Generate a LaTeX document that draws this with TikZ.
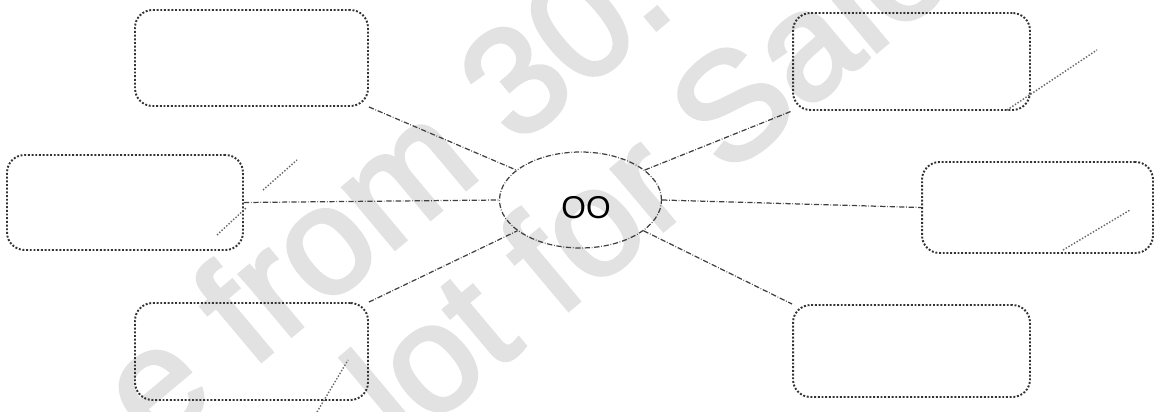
\documentclass[tikz,border=0pt]{standalone}
\usepackage{fontspec}
\setmainfont{Liberation Sans}
\newfontfamily\wmfont[FakeBold=2.5]{Liberation Sans}
\usetikzlibrary{shapes.geometric}
\definecolor{wm}{HTML}{E2E2E2}
\begin{document}
\begin{tikzpicture}[x=0.02cm,y=-0.02cm,
  box/.style={draw=black!80, densely dotted, line width=1.1pt, rounded corners=10pt, inner sep=0pt},
  link/.style={draw=black!75, densely dashdotted, line width=0.7pt},
  hub/.style={ellipse, draw=black!75, densely dashdotted, line width=0.7pt, minimum width=3.24cm, minimum height=1.92cm, inner sep=0pt},
  pencil/.style={draw=black!60, densely dotted, line width=0.8pt},
  wmark/.style={text=wm, font=\wmfont\fontsize{86.5}{86.5}\selectfont, rotate=40, anchor=base west, inner sep=0pt}]
\useasboundingbox (0,0) rectangle (1159,412);
% watermark
\node[wmark] (w1) at (154,451) {e from 30.};
\node[wmark] (w2) at (403,449) {lot for Sale};
% boxes
\node[box, minimum width=4.66cm, minimum height=1.92cm] (tl) at (251.5,58) {};
\node[box, minimum width=4.72cm, minimum height=1.90cm] (ml) at (125,202.5) {};
\node[box, minimum width=4.66cm, minimum height=1.94cm] (bl) at (251.5,351.5) {};
\node[box, minimum width=4.74cm, minimum height=1.94cm] (tr) at (911.5,61.5) {};
\node[box, minimum width=4.62cm, minimum height=1.82cm] (mr) at (1037.5,207.5) {};
\node[box, minimum width=4.74cm, minimum height=1.84cm] (br) at (911.5,351) {};
% center
\node[hub] (c) at (580.5,200) {};
\node[font=\fontsize{18}{18}\selectfont, inner sep=0pt] (oo) at (586,208) {OO};
% connectors
\draw[link] (tl.south east) -- (c.155);
\draw[link] (ml.east) -- (c.west);
\draw[link] (bl.north east) -- (c.206);
\draw[link] (c.25) -- (tr.south west);
\draw[link] (c.east) -- (mr.west);
\draw[link] (c.334) -- (br.north west);
% stray pencil marks
\coordinate (m1a) at (217,235); \coordinate (m1b) at (247,207);
\coordinate (m2a) at (263,190); \coordinate (m2b) at (297,160);
\coordinate (m3a) at (317,412); \coordinate (m3b) at (348,360);
\coordinate (m4a) at (1007,110); \coordinate (m4b) at (1097,50);
\coordinate (m5a) at (1063,250); \coordinate (m5b) at (1130,210);
\draw[pencil] (m1a) -- (m1b);
\draw[pencil] (m2a) -- (m2b);
\draw[pencil] (m3a) -- (m3b);
\draw[pencil] (m4a) -- (m4b);
\draw[pencil] (m5a) -- (m5b);
\end{tikzpicture}
\end{document}
